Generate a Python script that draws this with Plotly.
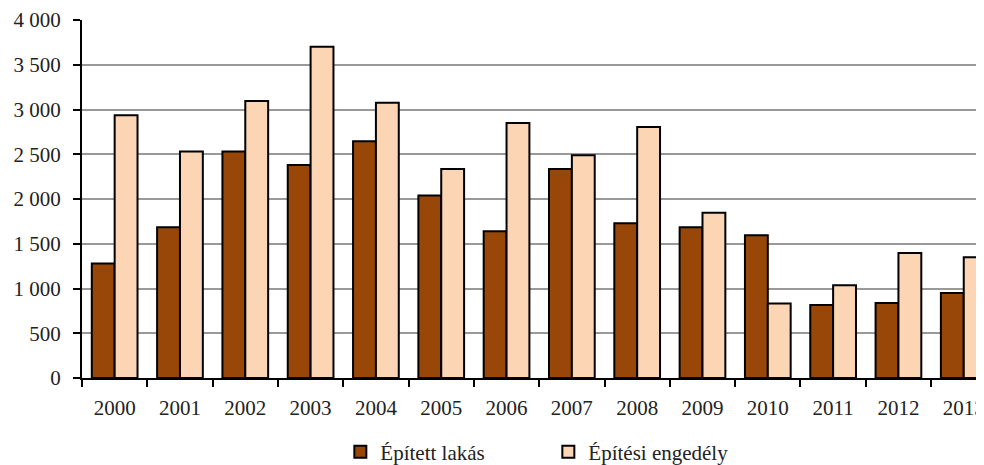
import plotly.graph_objects as go

years = ["2000", "2001", "2002", "2003", "2004", "2005", "2006",
         "2007", "2008", "2009", "2010", "2011", "2012", "2013"]
epitett = [1280, 1685, 2530, 2380, 2645, 2040, 1640, 2335, 1730, 1685, 1595, 815, 837, 949]
engedely = [2935, 2530, 3095, 3700, 3075, 2335, 2850, 2490, 2805, 1845, 833, 1035, 1398, 1349]

series_names = ["Épített lakás", "Építési engedély"]
colors = ["#994709", "#FCD5B5"]

FONT = "Liberation Serif"

fig = go.Figure()
for name, vals, col in zip(series_names, [epitett, engedely], colors):
    fig.add_trace(go.Bar(
        x=years, y=vals, name=name,
        marker=dict(color=col, line=dict(color="black", width=2)),
    ))

fig.update_layout(
    width=984, height=465,
    margin=dict(l=74, r=8, t=12, b=95, autoexpand=False),
    plot_bgcolor="white", paper_bgcolor="white",
    barmode="group", bargap=0.3, bargroupgap=0,
    separators=", ",
    font=dict(family=FONT, size=21, color="#222222"),
    legend=dict(orientation="h", x=0.517, xanchor="center",
                yref="container", y=0.045, yanchor="middle",
                font=dict(family=FONT, size=21, color="#222222"),
                entrywidth=163, itemwidth=30, traceorder="normal"),
    xaxis=dict(type="category", range=[-0.5, 13.31], showgrid=False,
               showline=True, linecolor="black", linewidth=2,
               ticks="outside", tickson="boundaries", ticklen=7, tickwidth=2,
               tickcolor="black", ticklabelstandoff=10),
    yaxis=dict(range=[0, 4000], dtick=500, tickformat=",d",
               showgrid=True, gridcolor="#999999", gridwidth=2,
               showline=True, linecolor="black", linewidth=2,
               ticks="outside", ticklen=7, tickwidth=2, tickcolor="black",
               zeroline=False, ticklabelstandoff=8),
)

fig.write_html("out.html")
